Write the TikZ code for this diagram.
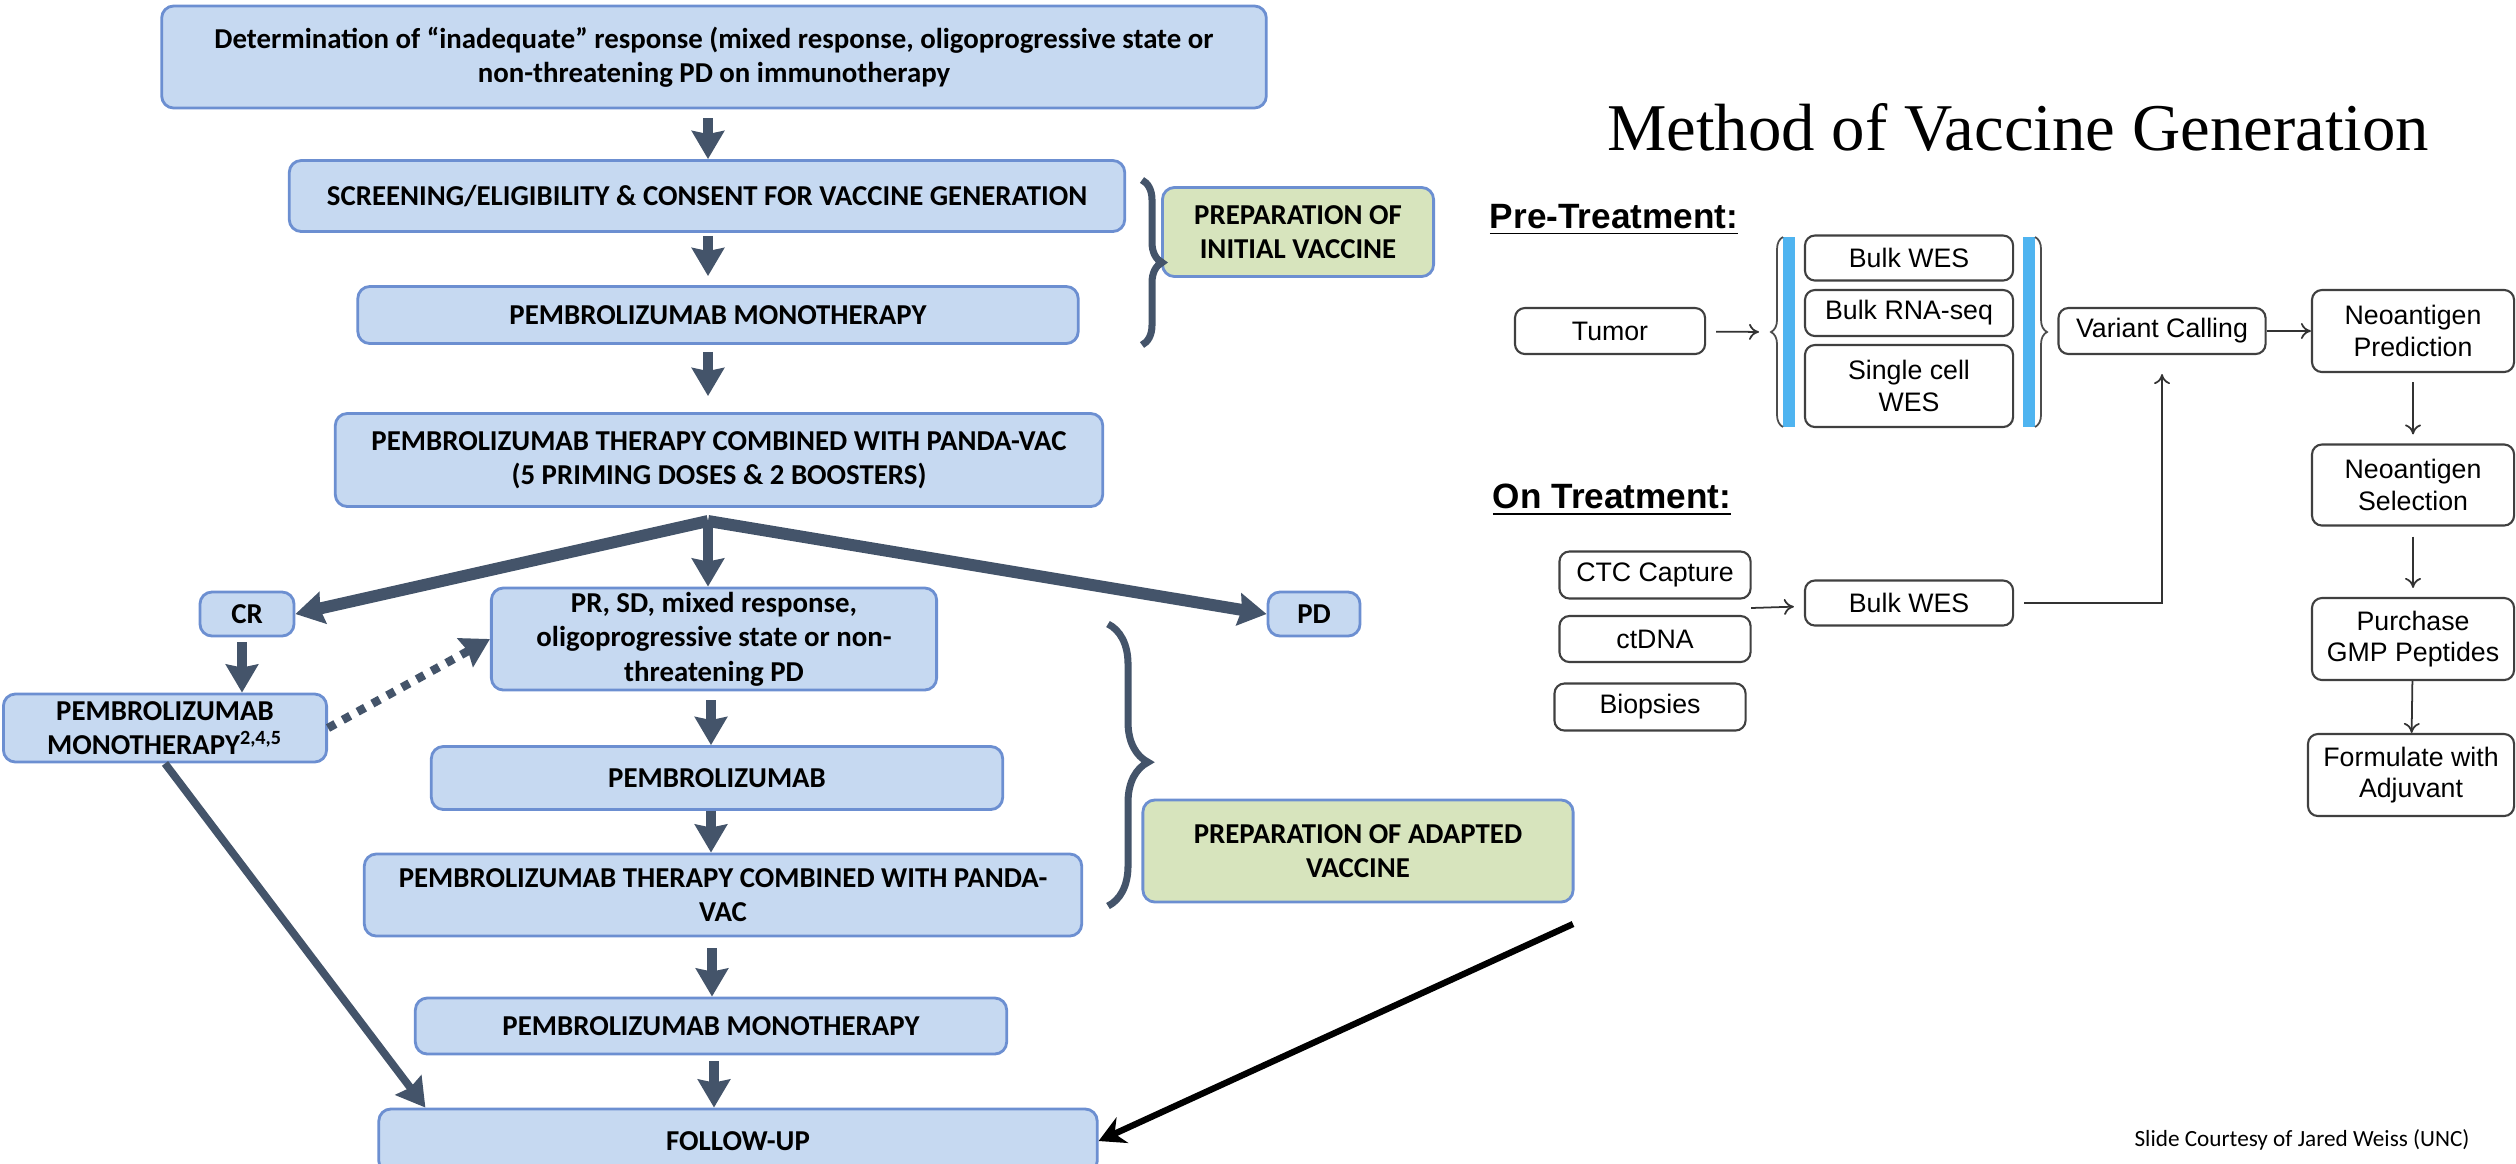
\documentclass[tikz,border=0pt]{standalone}
\usepackage{fontspec}
\usepackage{tikz}
\usetikzlibrary{arrows.meta,decorations.pathreplacing}
\newfontfamily\carl{Carlito}
\newfontfamily\arialf{Liberation Sans}
\newfontfamily\timesf{Liberation Serif}
\definecolor{boxblue}{HTML}{C6D9F1}
\definecolor{boxedge}{HTML}{6C8FD1}
\definecolor{prepgreen}{HTML}{D7E4BD}
\definecolor{arrowgray}{HTML}{44546A}
\definecolor{barblue}{HTML}{4FB4F0}
\newcommand{\lbox}{\carl\bfseries\fontsize{8.2}{9.8}\selectfont}
\newcommand{\rbox}{\arialf\fontsize{7.6}{9}\selectfont}
\tikzset{
	flowbox/.style={draw=boxedge, fill=boxblue, rounded corners=0.12cm, line width=0.8pt, font=\lbox, align=center, inner sep=0pt},
	prepbox/.style={flowbox, fill=prepgreen},
	genbox/.style={draw=black!75, fill=white, rounded corners=0.1cm, line width=0.6pt, font=\rbox, align=center, inner sep=0pt},
	fat/.style={draw=arrowgray, line width=2.8pt, -{Stealth[length=0.28cm, width=0.32cm, inset=0.03cm]}},
	thinarr/.style={draw=black!80, line width=0.5pt, -{To[length=0.1cm, width=0.16cm]}},
	bigbrace/.style={draw=arrowgray, line width=2pt, decorate},
	barbrace/.style={draw=black!70, line width=0.5pt, decorate, decoration={brace, amplitude=0.12cm}}
}
\begin{document}
\begin{tikzpicture}[x=0.01cm, y=-0.01cm]
	\useasboundingbox (0,0) rectangle (2516,1163);
	
	\node[flowbox, minimum width=11.04cm, minimum height=1.02cm] (det) at (714,57)
		{Determination of “inadequate” response (mixed response, oligoprogressive state or\\ non-threatening PD on immunotherapy};
	\node[flowbox, minimum width=8.35cm, minimum height=0.71cm] (screen) at (707,196)
		{SCREENING/ELIGIBILITY \& CONSENT FOR VACCINE GENERATION};
	\node[flowbox, minimum width=7.2cm, minimum height=0.57cm] (mono) at (718,315) {PEMBROLIZUMAB MONOTHERAPY};
	\node[flowbox, minimum width=7.67cm, minimum height=0.93cm] (combo) at (719,460)
		{PEMBROLIZUMAB THERAPY COMBINED WITH PANDA-VAC\\ (5 PRIMING DOSES \& 2 BOOSTERS)};
	\node[prepbox, minimum width=2.71cm, minimum height=0.89cm] (prepinit) at (1298,232) {PREPARATION OF\\ INITIAL VACCINE};
	\coordinate (fork) at (708,521);
	
	\node[flowbox, minimum width=0.94cm, minimum height=0.44cm] (cr) at (247,614) {CR};
	\node[flowbox, minimum width=0.92cm, minimum height=0.44cm] (pd) at (1314,614) {PD};
	\node[flowbox, minimum width=4.45cm, minimum height=1.02cm] (pr) at (714,639)
		{PR, SD, mixed response,\\ oligoprogressive state or non-\\ threatening PD};
	\node[flowbox, minimum width=3.23cm, minimum height=0.68cm] (crmono) at (165,728)
		{PEMBROLIZUMAB\\ MONOTHERAPY\textsuperscript{2,4,5}};
	\node[flowbox, minimum width=5.71cm, minimum height=0.63cm] (pembro) at (717,778) {PEMBROLIZUMAB};
	\node[flowbox, minimum width=7.17cm, minimum height=0.82cm] (combob) at (723,895)
		{PEMBROLIZUMAB THERAPY COMBINED WITH PANDA-\\ VAC};
	\node[flowbox, minimum width=5.91cm, minimum height=0.56cm] (monob) at (711,1026) {PEMBROLIZUMAB MONOTHERAPY};
	\node[flowbox, minimum width=7.18cm, minimum height=0.64cm] (follow) at (738,1141) {FOLLOW-UP};
	\node[prepbox, minimum width=4.3cm, minimum height=1.02cm] (prepadapt) at (1358,851) {PREPARATION OF ADAPTED\\ VACCINE};
	\coordinate (blk) at (1573,924);
	
	\draw[fat, shorten <=0.09cm] (det.south -| fork) -- (fork |- screen.north);
	\draw[fat, shorten <=0.03cm, shorten >=0.09cm] (screen.south -| fork) -- (fork |- mono.north);
	\draw[fat, shorten <=0.07cm, shorten >=0.16cm] (mono.south -| fork) -- (fork |- combo.north);
	\draw[fat, line width=3.4pt] (fork) -- (cr.east);
	\draw[fat, line width=3.4pt] (fork) -- (pd.west);
	\draw[fat] (fork) -- (fork |- pr.north);
	\draw[fat, shorten <=0.05cm] (cr.south -| 242,0) -- (242,0 |- crmono.north);
	\draw[fat, line width=2.4pt, dash pattern=on 2.4pt off 2.4pt] (crmono.east) -- (pr.west);
	\draw[fat, shorten <=0.09cm] (pr.south -| 711,0) -- (711,0 |- pembro.north);
	\draw[fat] (pembro.south -| 711,0) -- (711,0 |- combob.north);
	\draw[fat, shorten <=0.11cm] (combob.south -| 712,0) -- (712,0 |- monob.north);
	\draw[fat, shorten <=0.06cm] (monob.south -| 714,0) -- (714,0 |- follow.north);
	\draw[fat, line width=2.2pt] (crmono.south) -- ([xshift=0.48cm]follow.north west);
	\draw[line width=1.8pt, -{Stealth[length=0.26cm, width=0.28cm]}] (blk) -- (follow.east);
	\draw[bigbrace, decoration={brace, amplitude=0.2cm}] (1142,180) -- (1142,345);
	\draw[bigbrace, decoration={brace, amplitude=0.4cm, aspect=0.49}] (1108,624) -- (1108,906);
	
	\node[font=\timesf\fontsize{19}{22}\selectfont] (title) at (2018,127) {Method of Vaccine Generation};
	\node[font=\arialf\bfseries\fontsize{10}{12}\selectfont] (pretreat) at (1614,220) {\underline{Pre-Treatment:}};
	\node[font=\arialf\bfseries\fontsize{10}{12}\selectfont] (ontreat) at (1612,500) {\underline{On Treatment:}};
	
	\node[genbox, minimum width=1.9cm, minimum height=0.46cm] (tumor) at (1610,331) {Tumor};
	\node[genbox, minimum width=2.08cm, minimum height=0.45cm] (bwes) at (1909,258) {Bulk WES};
	\node[genbox, minimum width=2.08cm, minimum height=0.46cm] (brna) at (1909,313) {Bulk RNA-seq};
	\node[genbox, minimum width=2.08cm, minimum height=0.82cm] (scwes) at (1909,386) {Single cell\\ WES};
	\node[genbox, minimum width=2.07cm, minimum height=0.46cm] (variant) at (2162,331) {Variant Calling};
	\node[genbox, minimum width=2.02cm, minimum height=0.82cm] (npred) at (2413,331) {Neoantigen\\ Prediction};
	\node[genbox, minimum width=2.02cm, minimum height=0.81cm] (nsel) at (2413,485) {Neoantigen\\ Selection};
	\node[genbox, minimum width=2.02cm, minimum height=0.82cm] (gmp) at (2413,639) {Purchase\\ GMP Peptides};
	\node[genbox, minimum width=2.06cm, minimum height=0.82cm] (adjuv) at (2411,775) {Formulate with\\ Adjuvant};
	\node[genbox, minimum width=1.91cm, minimum height=0.47cm] (ctc) at (1655,575) {CTC Capture};
	\node[genbox, minimum width=1.91cm, minimum height=0.46cm] (ctdna) at (1655,639) {ctDNA};
	\node[genbox, minimum width=1.91cm, minimum height=0.47cm] (biop) at (1650,707) {Biopsies};
	\node[genbox, minimum width=2.08cm, minimum height=0.45cm] (bwesb) at (1909,603) {Bulk WES};
	\coordinate (barin) at (1771,332);
	\coordinate (otsrc) at (1751,608);
	
	\fill[barblue] (1783,237) rectangle (1795,427);
	\fill[barblue] (2023,237) rectangle (2035,427);
	\draw[barbrace] (1783,427) -- (1783,237);
	\draw[barbrace] (2035,237) -- (2035,427);
	
	\draw[thinarr, shorten <=0.1cm, shorten >=0.12cm] (tumor) -- (barin);
	\draw[thinarr] (variant) -- (npred);
	\draw[thinarr, shorten <=0.09cm, shorten >=0.09cm] (npred) -- (nsel);
	\draw[thinarr, shorten <=0.1cm, shorten >=0.09cm] (nsel) -- (gmp);
	\draw[thinarr] (gmp) -- (adjuv);
	\draw[thinarr, shorten >=0.1cm] (otsrc) -- (bwesb);
	\draw[thinarr, shorten <=0.1cm, shorten >=0.19cm] (bwesb) -| (variant.south);
	
	\node[font=\carl\fontsize{6.6}{8}\selectfont] (credit) at (2302,1140) {Slide Courtesy of Jared Weiss (UNC)};
\end{tikzpicture}
\end{document}
